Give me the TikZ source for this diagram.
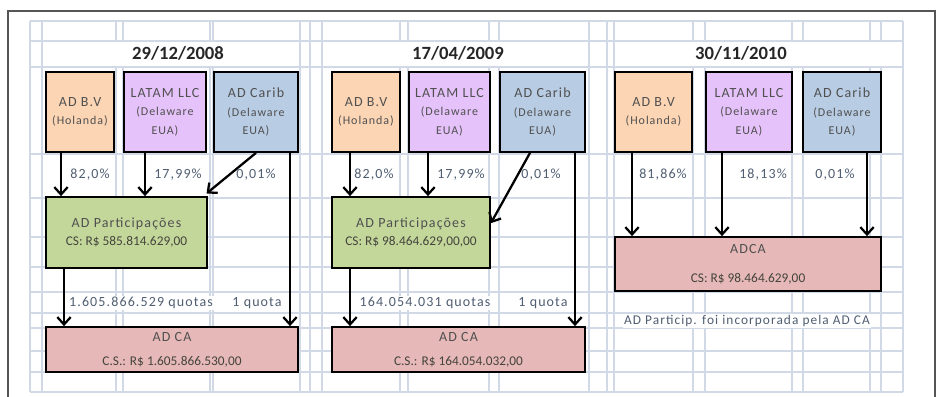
\documentclass[tikz,border=0pt]{standalone}
\usepackage{fontspec}
\setmainfont{Carlito}
\newfontfamily\spaced[LetterSpace=8]{Carlito}
\usetikzlibrary{arrows.meta}

\definecolor{gridline}{RGB}{210,217,230}
\definecolor{bvfill}{RGB}{252,213,180}
\definecolor{latamfill}{RGB}{230,194,250}
\definecolor{caribfill}{RGB}{184,204,228}
\definecolor{partfill}{RGB}{196,215,155}
\definecolor{cafill}{RGB}{230,184,183}
\definecolor{boxtext}{RGB}{80,80,80}
\definecolor{valtext}{RGB}{68,68,60}
\definecolor{lbltext}{RGB}{80,94,114}
\definecolor{framegray}{RGB}{85,85,85}

\newcommand\subfont{\fontsize{9}{14}\selectfont}
\newcommand\valfont{\rmfamily\fontsize{10}{14}\selectfont\color{valtext}}

\tikzset{
  holder/.style={draw=black, line width=1.3pt, align=center, inner sep=0pt, text=boxtext, font=\spaced\fontsize{10.5}{14}\selectfont},
  pct/.style={text=lbltext, font=\spaced\fontsize{10.5}{12}\selectfont, fill=white, inner sep=1pt},
  datehead/.style={font=\bfseries\fontsize{14}{16}\selectfont, text=black!85},
  own/.style={-{Straight Barb[length=5.5pt,width=10pt]}, line width=1.7pt}
}

\begin{document}
\begin{tikzpicture}[x=0.75pt, y=-0.75pt]
\useasboundingbox (0,0) rectangle (937,396);
\clip (0,0) rectangle (937,396);

%draw the spreadsheet grid behind
\foreach \gx in {30,42,116,123,210,213,300,310,322,400,408,489,499,589,607,614,693,705,792,803,870,881,903}
  \draw[gridline, line width=1.5pt] (\gx,21) -- (\gx,41) (\gx,67) -- (\gx,392);
\foreach \gx in {30,42,300,310,322,589,607,614,903}
  \draw[gridline, line width=1.5pt] (\gx,41) -- (\gx,67);
\foreach \gy in {21,41,67,154,198,237,267,292,313,328,351,372,392}
  \draw[gridline, line width=1.5pt] (30,\gy) -- (903,\gy);

%outer frame
\draw[framegray, line width=1.2pt] (8,400) -- (8,11) -- (935,11) -- (935,400);

%dates
\node[datehead] (d1) at (178,53) {29/12/2008};
\node[datehead] (d2) at (458,53) {17/04/2009};
\node[datehead] (d3) at (741,53) {30/11/2010};

%first panel
\node[holder, fill=bvfill, minimum width=51pt, minimum height=60pt] (bv1) at (80,112) {AD B.V\\{\subfont (Holanda)}};
\node[holder, fill=latamfill, minimum width=61.5pt, minimum height=60pt] (lt1) at (165,112) {LATAM LLC\\{\subfont (Delaware}\\{\subfont EUA)}};
\node[holder, fill=caribfill, minimum width=63pt, minimum height=60pt] (cb1) at (256,112) {AD Carib\\{\subfont (Delaware}\\{\subfont EUA)}};
\node[holder, fill=partfill, minimum width=120.75pt, minimum height=53.25pt] (pa1) at (126.5,232.5) {AD Participações\\{\valfont CS: R\$ 585.814.629,00}};
\node[holder, fill=cafill, minimum width=189pt, minimum height=33.75pt] (ca1) at (172,349.5) {AD CA\\[4pt]{\valfont C.S.: R\$ 1.605.866.530,00}};

\node[pct] (p11) at (90,175) {82,0\%};
\node[pct] (p12) at (178,175) {17,99\%};
\node[pct] (p13) at (256,175) {0,01\%};
\node[pct] (q11) at (141,303) {1.605.866.529 quotas};
\node[pct] (q12) at (257,303) {1 quota};

\draw[own] (61,0 |- bv1.south) -- (61,0 |- pa1.north);
\draw[own] (145,0 |- lt1.south) -- (145,0 |- pa1.north);
\draw[own] (cb1.south) -- ([xshift=-1pt,yshift=2pt]pa1.north east);
\draw[own] (290,0 |- cb1.south) -- (290,0 |- ca1.north);
\draw[own] (64,0 |- pa1.south) -- (64,0 |- ca1.north);

%second panel
\node[holder, fill=bvfill, minimum width=51pt, minimum height=60pt] (bv2) at (366,112) {AD B.V\\{\subfont (Holanda)}};
\node[holder, fill=latamfill, minimum width=60.75pt, minimum height=60pt] (lt2) at (449.5,112) {LATAM LLC\\{\subfont (Delaware}\\{\subfont EUA)}};
\node[holder, fill=caribfill, minimum width=63.75pt, minimum height=60pt] (cb2) at (542.5,112) {AD Carib\\{\subfont (Delaware}\\{\subfont EUA)}};
\node[holder, fill=partfill, minimum width=118.5pt, minimum height=53.25pt] (pa2) at (411,232.5) {AD Participações\\{\valfont CS: R\$ 98.464.629,00,00}};
\node[holder, fill=cafill, minimum width=189.75pt, minimum height=33.75pt] (ca2) at (458.5,349.5) {AD CA\\[4pt]{\valfont C.S.: R\$ 164.054.032,00}};

\node[pct] (p21) at (374,175) {82,0\%};
\node[pct] (p22) at (461,175) {17,99\%};
\node[pct] (p23) at (541,175) {0,01\%};
\node[pct] (q21) at (425,303) {164.054.031 quotas};
\node[pct] (q22) at (543,303) {1 quota};

\draw[own] (350,0 |- bv2.south) -- (350,0 |- pa2.north);
\draw[own] (428,0 |- lt2.south) -- (428,0 |- pa2.north);
\draw[own] (530,0 |- cb2.south) -- ([yshift=7pt]pa2.east);
\draw[own] (575,0 |- cb2.south) -- (575,0 |- ca2.north);
\draw[own] (350,0 |- pa2.south) -- (350,0 |- ca2.north);

%third panel
\node[holder, fill=bvfill, minimum width=57.75pt, minimum height=60pt] (bv3) at (653.5,112) {AD B.V\\{\subfont (Holanda)}};
\node[holder, fill=latamfill, minimum width=64.5pt, minimum height=60pt] (lt3) at (749,112) {LATAM LLC\\{\subfont (Delaware}\\{\subfont EUA)}};
\node[holder, fill=caribfill, minimum width=58.5pt, minimum height=60pt] (cb3) at (842,112) {AD Carib\\{\subfont (Delaware}\\{\subfont EUA)}};
\node[holder, fill=cafill, minimum width=199.5pt, minimum height=40.5pt] (ca3) at (748,264) {ADCA\\[8pt]{\valfont CS: R\$ 98.464.629,00}};

\node[pct] (p31) at (663,175) {81,86\%};
\node[pct] (p32) at (763,175) {18,13\%};
\node[pct] (p33) at (835,175) {0,01\%};
\node[pct, font=\spaced\fontsize{10}{12}\selectfont] (nt3) at (747,321) {AD Particip. foi incorporada pela AD CA};

\draw[own] (632,0 |- bv3.south) -- (632,0 |- ca3.north);
\draw[own] (722,0 |- lt3.south) -- (722,0 |- ca3.north);
\draw[own] (867,0 |- cb3.south) -- (867,0 |- ca3.north);

\end{tikzpicture}
\end{document}
